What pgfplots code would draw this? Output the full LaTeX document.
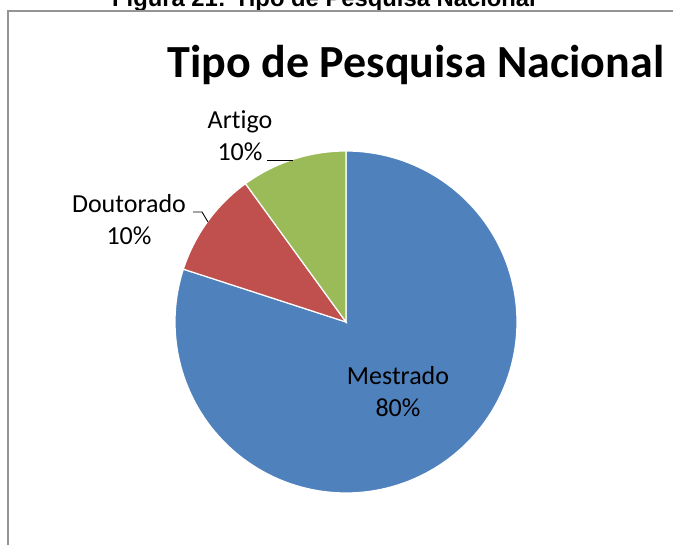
\documentclass[border=0pt]{standalone}
\usepackage{fontspec}
\setmainfont{Carlito}[Ligatures={NoCommon}]
\newfontfamily\capfont{Liberation Sans}
\usepackage{pgfplots}
\usepackage{pgfplotstable}
\pgfplotsset{compat=1.18}
\definecolor{cblue}{HTML}{4F81BD}
\definecolor{cred}{HTML}{C0504D}
\definecolor{cgreen}{HTML}{9BBB59}
\definecolor{cframe}{HTML}{949494}
\pgfplotstableread{
label value
Mestrado 80
Doutorado 10
Artigo 10
}\piedata
\pgfplotstablegetelem{0}{value}\of\piedata \let\vA\pgfplotsretval
\pgfplotstablegetelem{1}{value}\of\piedata \let\vB\pgfplotsretval
\pgfplotstablegetelem{2}{value}\of\piedata \let\vC\pgfplotsretval
\pgfmathsetmacro\aA{90}
\pgfmathsetmacro\aB{\aA-3.6*\vA}
\pgfmathsetmacro\aC{\aB-3.6*\vB}
\pgfmathsetmacro\aD{\aC-3.6*\vC}
\def\cx{346}
\def\cy{223}
\def\rr{171}
\begin{document}
\begin{tikzpicture}
\useasboundingbox (0,0) rectangle (673pt,545pt);
\begin{scope}
\clip (0,0) rectangle (673pt,545pt);
\begin{axis}[at={(0,0)}, anchor=south west, width=673pt, height=545pt, scale only axis,
  xmin=0, xmax=673, ymin=0, ymax=545, axis lines=none, ticks=none, clip=false]
% caption (cut at top)
\node[anchor=base, inner sep=0pt, font=\capfont\bfseries\fontsize{23.8}{28}\selectfont] at (axis cs:324,538) {Figura 21: Tipo de Pesquisa Nacional};
% frame (left and top only), as thin filled bars
\addplot[fill=cframe, draw=none] coordinates {(7,-5) (9,-5) (9,534) (7,534)} -- cycle;
\addplot[fill=cframe, draw=none] coordinates {(7,533.3) (680,533.3) (680,534.7) (7,534.7)} -- cycle;
% title
\node[anchor=base, inner sep=0pt, font=\bfseries\fontsize{46}{55}\selectfont] at (axis cs:416,467) {Tipo de Pesquisa Nacional};
% slices
\addplot[draw=white, line width=1.2pt, fill=cblue, domain=\aB:\aA, samples=150, variable=\t]
  ({\cx+\rr*cos(\t)},{\cy+\rr*sin(\t)}) -- (axis cs:\cx,\cy) -- cycle;
\addplot[draw=white, line width=1.2pt, fill=cred, domain=\aC:\aB, samples=30, variable=\t]
  ({\cx+\rr*cos(\t)},{\cy+\rr*sin(\t)}) -- (axis cs:\cx,\cy) -- cycle;
\addplot[draw=white, line width=1.2pt, fill=cgreen, domain=\aD:\aC, samples=30, variable=\t]
  ({\cx+\rr*cos(\t)},{\cy+\rr*sin(\t)}) -- (axis cs:\cx,\cy) -- cycle;
% leader lines
\addplot[black, line width=0.9pt] coordinates {(267,385) (293,385)};
\addplot[black, line width=0.9pt] coordinates {(193,333) (202,333) (208,323)};
% labels
\begin{scope}[every node/.style={anchor=base, inner sep=0pt, font=\fontsize{26}{31}\selectfont}]
\node at (axis cs:240,416) {Artigo};
\node at (axis cs:240,384) {10\%};
\node at (axis cs:129,332) {Doutorado};
\node at (axis cs:129,300) {10\%};
\node at (axis cs:398,160) {Mestrado};
\node at (axis cs:398,128) {80\%};
\end{scope}
\end{axis}
\end{scope}
\end{tikzpicture}
\end{document}
